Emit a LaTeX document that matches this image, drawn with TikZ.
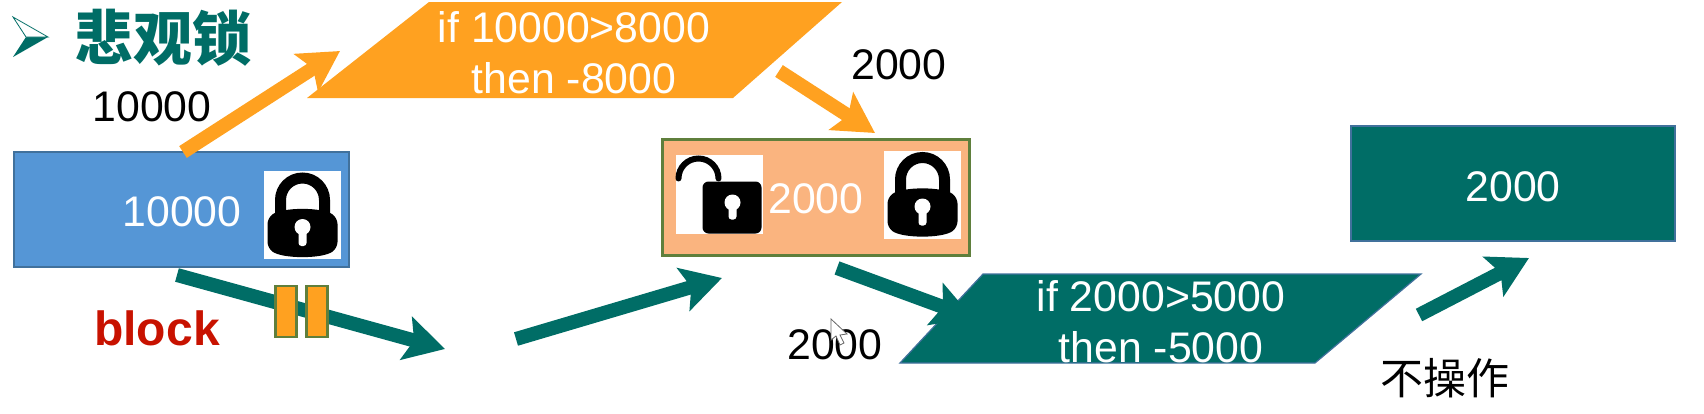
\documentclass[tikz,border=0pt]{standalone}
\usepackage{fontspec}
\setmainfont{Liberation Sans}
\newfontfamily\cjk{Noto Sans CJK SC}
\usetikzlibrary{arrows.meta}

\definecolor{TealDark}{HTML}{006D66}
\definecolor{OrangeFill}{HTML}{FFA120}
\definecolor{BlueFill}{HTML}{5596D6}
\definecolor{BlueEdge}{HTML}{41719C}
\definecolor{PeachFill}{HTML}{FAB47F}
\definecolor{GreenEdge}{HTML}{5F7F3C}
\definecolor{BlockRed}{HTML}{C81200}

\tikzset{
	amount/.style={font=\fontsize{21.4}{25.5}\selectfont, inner sep=0pt, align=center},
	bigarrow/.style={line width=7pt, -{Stealth[length=20pt, width=22pt, inset=4pt]}},
	gatebar/.style={fill=OrangeFill, draw=GreenEdge, line width=1.2pt, inner sep=0pt, minimum width=10.5pt, minimum height=25.5pt},
	lockclosed/.pic={
		\fill[white] (-38.5,-44) rectangle (38.5,44);
		\draw[black, line width=5.5pt] (-22,4) -- (-22,-15) arc (180:360:22) -- (22,4);
		\fill[black, rounded corners=3pt] (-35,3) .. controls (-20,-8) and (20,-8) .. (35,3) -- (35,33) .. controls (20,44) and (-20,44) .. (-35,33) -- cycle;
		\fill[white] (0,12) circle (8);
		\fill[white, rounded corners=1.5pt] (-4,12) rectangle (4,31);
	},
	lockopen/.pic={
		\fill[white] (-43.5,-39.5) rectangle (43.5,39.5);
		\draw[black, line width=3pt, line cap=round] (-41,-16) arc (180:360:20);
		\fill[black, rounded corners=3pt] (-17,-13) rectangle (42,39);
		\fill[white] (13,8) circle (8);
		\fill[white, rounded corners=1.5pt] (9,8) rectangle (17,25);
	},
}

\begin{document}
\begin{tikzpicture}[x=0.5pt, y=-0.5pt]
	\useasboundingbox (0,0) rectangle (1704,413);

	% heading
	\fill[TealDark] (13,57) -- (48,37) -- (26,37) -- cycle;
	\draw[TealDark, line width=0.4pt, fill=white] (13,17) -- (48,37) -- (26,37) -- cycle;
	\node[font=\cjk\bfseries\fontsize{29.5}{32}\selectfont, text=TealDark, inner sep=0pt] (title) at (163,38) {悲观锁};

	% free ends of the arrows
	\coordinate (readStart) at (183,152);
	\coordinate (readEnd) at (340,51);
	\coordinate (writeStart) at (779,71);
	\coordinate (writeEnd) at (875,133);
	\coordinate (blockStart) at (177,275);
	\coordinate (blockEnd) at (445,349);
	\coordinate (wakeStart) at (516,339);
	\coordinate (wakeEnd) at (722,278);
	\coordinate (retryStart) at (837,268);
	\coordinate (retryEnd) at (973,318);
	\coordinate (skipStart) at (1419,315);
	\coordinate (skipEnd) at (1529,258);

	% first account box
	\node[fill=BlueFill, draw=BlueEdge, line width=1.2pt, minimum width=167.5pt, minimum height=57.5pt, inner sep=0pt] (accountA) at (181.5,209.5) {};
	\node[amount, text=white] (amountA) at (182,212) {10000};
	\pic at (302.5,215) {lockclosed};
	\node[amount] (readValue) at (152,107) {10000};

	% first transaction
	\fill[OrangeFill] (307,98) -- (429,2) -- (842,2) -- (733,98) -- cycle;
	\node[amount, text=white] (checkA) at (574,53) {if 10000>8000\\then -8000};
	\draw[OrangeFill, bigarrow] (readStart) -- (readEnd);
	\draw[OrangeFill, bigarrow] (writeStart) -- (writeEnd);
	\node[amount] (writeValue) at (899,65) {2000};

	% second account box
	\node[fill=PeachFill, draw=GreenEdge, line width=1.5pt, minimum width=153.5pt, minimum height=58pt, inner sep=0pt] (accountB) at (815.5,197) {};
	\pic at (719.5,194.5) {lockopen};
	\node[amount, text=white] (amountB) at (816,199) {2000};
	\pic at (922.5,194.5) {lockclosed};

	% blocked transaction
	\draw[TealDark, bigarrow] (blockStart) -- (blockEnd);
	\node[gatebar] (barLeft) at (286,311.5) {};
	\node[gatebar] (barRight) at (317,311.5) {};
	\node[font=\bfseries\fontsize{24}{28}\selectfont, text=BlockRed, inner sep=0pt] (blockLabel) at (157,328) {block};
	\draw[TealDark, bigarrow] (wakeStart) -- (wakeEnd);

	% second transaction
	\fill[TealDark, draw=BlueEdge, line width=0.6pt] (900,363) -- (983,274) -- (1421,274) -- (1315,363) -- cycle;
	\node[amount, text=white] (checkB) at (1161,322) {if 2000>5000\\then -5000};
	\draw[TealDark, bigarrow] (retryStart) -- (retryEnd);
	\node[amount] (readAgain) at (835,345) {2000};
	\fill[white, draw=black!60, line width=0.4pt] (831,319) -- (831,340) -- (836,336) -- (840,345) -- (844,343) -- (840,335) -- (847,334) -- cycle;
	\draw[TealDark, bigarrow] (skipStart) -- (skipEnd);

	% result box
	\node[fill=TealDark, draw=BlueEdge, line width=1pt, minimum width=162pt, minimum height=57.5pt, inner sep=0pt] (accountC) at (1513,183.5) {};
	\node[amount, text=white] (amountC) at (1513,187) {2000};
	\node[font=\cjk\fontsize{21.5}{25}\selectfont, inner sep=0pt] (skipLabel) at (1445,378) {不操作};
\end{tikzpicture}
\end{document}
